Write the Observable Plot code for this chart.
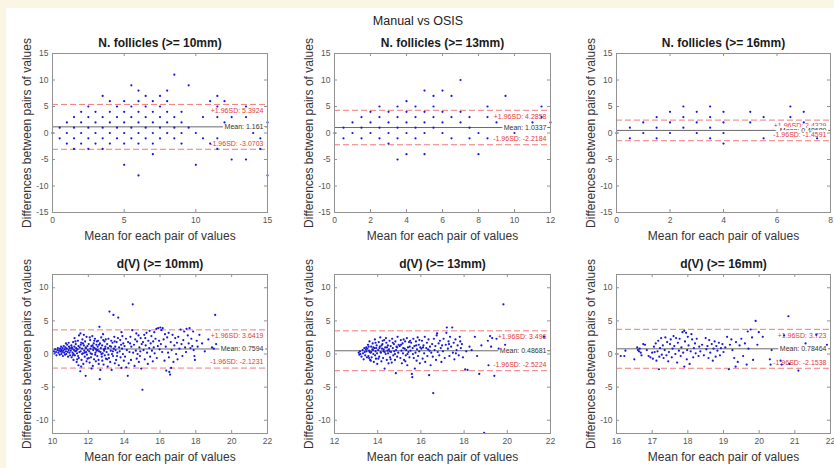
<!DOCTYPE html>
<html><head><meta charset="utf-8">
<script src="https://cdn.jsdelivr.net/npm/d3@7"></script>
<script src="https://cdn.jsdelivr.net/npm/@observablehq/plot@0.6"></script>
<style>
html,body{margin:0;padding:0;background:#fbf6e3;}
#page{position:relative;width:834px;height:468px;overflow:hidden;font-family:"Liberation Sans",Arial,sans-serif;}
#sheet{position:absolute;left:6px;top:8px;right:0;bottom:0;background:#fff;}
#title{position:absolute;left:0;width:836px;top:14px;text-align:center;font-size:12.5px;line-height:14px;color:#222;}
.panel{position:absolute;}
.panel svg{overflow:visible;background:transparent;}
</style></head><body>
<div id="page"><div id="sheet"></div><div id="title">Manual vs OSIS</div></div>
<script>
// ---------------- data ----------------
const figureTitle = "Manual vs OSIS";
const panelTitles = ["N. follicles (>= 10mm)","N. follicles (>= 13mm)","N. follicles (>= 16mm)","d(V) (>= 10mm)","d(V) (>= 13mm)","d(V) (>= 16mm)"];
const xLabel = "Mean for each pair of values";
const yLabel = "Differences between pairs of values";
const xDomains = [[0,15],[0,12],[0,8],[10,22],[12,22],[16,22]];
const yDomains = [[-15,15],[-15,15],[-15,15],[-12,12],[-12,12],[-12,12]];
const xTickValues = [[0,5,10,15],[0,2,4,6,8,10,12],[0,2,4,6,8],[10,12,14,16,18,20,22],[12,14,16,18,20,22],[16,17,18,19,20,21,22]];
const yTickValues = [[-15,-10,-5,0,5,10,15],[-15,-10,-5,0,5,10,15],[-15,-10,-5,0,5,10,15],[-10,-5,0,5,10],[-10,-5,0,5,10],[-10,-5,0,5,10]];
const meanValues = [1.161, 1.0337, 0.48689, 0.7594, 0.48681, 0.78464];
const upperLoA = [5.3924, 4.2858, 2.4329, 3.6419, 3.496, 3.723];
const lowerLoA = [-3.0703, -2.2184, -1.4591, -2.1231, -2.5224, -2.1538];

// N. follicles: [mean, [differences at that mean]]
const nf10 = [[0,[0]],[0.5,[1,-1]],[1,[2,0,-2]],[1.5,[3,1,-1,-3]],[2,[4,2,0,-2]],[2.5,[5,3,1,-1,-3]],[3,[4,2,0,-2]],[3.5,[7,3,1,-1,-3]],[4,[6,4,2,0,-2]],[4.5,[5,3,1,-1]],[5,[6,4,2,0,-2,-6]],[5.5,[9,5,3,1,-1]],[6,[8,6,4,2,0,-2,-8]],[6.5,[7,5,3,1,-1]],[7,[6,4,2,0,-2,-4]],[7.5,[7,5,3,1,-1]],[8,[8,6,4,2,0]],[8.5,[11,3,1,-1]],[9,[4,2,0,-2]],[9.5,[9,1]],[10,[0,-6]],[10.5,[3,-1]],[11,[6,-2]],[11.5,[7,5,3,-1,-3]],[12,[6,2]],[12.5,[3,-5]],[13.5,[5,3,-5]],[14,[0]],[14.5,[-1,-3]],[15,[2,-8]]];
const nf13 = [[0,[0]],[0.5,[1,-1]],[1,[2,0]],[1.5,[3,1,-1]],[2,[4,2,0]],[2.5,[5,3,1,-1]],[3,[4,2,0,-2]],[3.5,[5,3,1,-1,-5]],[4,[6,4,2,0,-4]],[4.5,[5,3,1,-1]],[5,[8,4,2,0,-4]],[5.5,[7,5,3,1]],[6,[8,4,2,0]],[6.5,[7,3,-1]],[7,[10,4,2]],[7.5,[3,1,-1]],[8,[0,-4]],[8.5,[5,3,-1]],[9,[2]],[9.5,[7]],[10,[0]],[11,[2]],[11.5,[5,3]],[12,[2]]];
const nf16 = [[0,[0]],[0.5,[1,-1]],[1,[2,0]],[1.5,[3,1,-1]],[2,[4,2,0]],[2.5,[5,3,1]],[3,[4,2,0]],[3.5,[5,3,1,-1]],[4,[4,2,0,-2]],[5,[4,2]],[5.5,[3,-1]],[6.5,[5,3]],[7,[4,2]],[7.5,[-1]]];

// d(V): [mean, difference]
const dv10 = [
[10.08,0.4],[10.12,0.1],[10.15,0.7],[10.2,0.3],[10.22,-0.2],[10.27,0.6],[10.3,0.9],[10.33,0.2],[10.37,0.5],[10.4,-0.1],[10.42,0.8],[10.45,0.4],[10.48,1.1],[10.5,0.0],[10.5,0.6],
[10.53,0.3],[10.56,0.9],[10.58,-0.3],[10.6,0.5],[10.63,1.2],[10.65,0.2],[10.68,0.7],[10.7,-0.1],[10.72,1.0],[10.75,0.4],[10.77,0.0],[10.8,0.8],[10.82,1.4],[10.85,0.3],[10.87,-0.4],[10.9,0.6],[10.92,1.1],[10.95,0.2],[10.97,0.9],[10.98,-0.2],[10.9,1.7],[10.75,1.6],
[11.02,0.5],[11.05,1.3],[11.07,-0.5],[11.1,0.8],[11.12,0.2],[11.15,1.8],[11.17,-0.9],[11.2,0.6],[11.22,1.1],[11.25,-0.2],[11.27,0.4],[11.3,1.5],[11.32,0.9],[11.35,-1.2],[11.37,0.1],[11.4,0.7],[11.42,2.0],[11.45,1.2],[11.47,-0.6],[11.5,0.3],[11.48,2.8],[11.45,-1.7],[11.38,-0.8],[11.28,1.9],[11.18,0.0],[11.08,1.0],[11.33,0.5],[11.43,-0.3],[11.23,2.4],[11.13,-0.2],
[11.52,1.0],[11.55,-2.6],[11.56,3.1],[11.57,0.4],[11.6,1.7],[11.62,-0.9],[11.65,0.8],[11.67,2.2],[11.7,0.1],[11.72,-1.5],[11.75,1.3],[11.77,0.5],[11.8,-0.4],[11.82,1.9],[11.85,-3.3],[11.87,0.9],[11.9,2.6],[11.92,-0.1],[11.95,1.2],[11.97,0.6],[11.6,-1.9],[11.7,1.6],[11.8,0.2],[11.9,-1.1],[11.65,0.0],[11.75,2.9],[11.85,1.0],[11.95,-0.7],[11.58,1.4],[11.88,0.3],
[12.02,1.5],[12.05,0.4],[12.07,-1.3],[12.1,2.1],[12.12,0.8],[12.15,-0.5],[12.17,1.2],[12.2,0.0],[12.22,2.7],[12.25,-1.8],[12.27,0.6],[12.3,1.6],[12.32,-0.8],[12.35,0.9],[12.37,2.3],[12.4,0.2],[12.42,-1.1],[12.45,1.4],[12.47,0.5],[12.5,-0.3],[12.08,2.5],[12.18,-2.2],[12.28,1.0],[12.38,-0.1],[12.48,1.9],[12.13,0.1],[12.23,1.3],[12.33,2.0],[12.43,0.7],[12.03,-0.6],
[12.52,1.1],[12.55,2.0],[12.57,-0.9],[12.6,0.4],[12.62,4.1],[12.64,-3.8],[12.65,1.6],[12.67,-2.4],[12.7,0.9],[12.72,2.5],[12.75,-0.4],[12.77,1.3],[12.8,0.1],[12.82,3.0],[12.85,-1.6],[12.87,0.7],[12.9,1.9],[12.92,-0.2],[12.95,1.1],[12.97,2.2],[12.58,-1.5],[12.68,0.3],[12.78,-1.0],[12.88,0.5],[12.98,-0.7],[12.6,1.4],[12.73,0.0],[12.83,2.1],[12.93,0.8],[12.53,0.6],
[13.02,0.3],[13.05,1.5],[13.08,-1.9],[13.1,0.9],[13.12,2.3],[13.15,-0.6],[13.18,6.4],[13.2,1.2],[13.22,-1.2],[13.25,0.5],[13.28,2.0],[13.3,-2.4],[13.32,0.0],[13.35,1.7],[13.38,-0.3],[13.4,5.9],[13.42,0.8],[13.45,2.6],[13.48,-1.4],[13.5,1.1],[13.12,-0.1],[13.27,1.1],[13.37,0.4],[13.47,1.9],[13.05,-0.8],
[13.52,0.6],[13.55,-0.9],[13.58,1.8],[13.62,0.2],[13.65,2.4],[13.67,5.5],[13.7,-1.7],[13.72,1.0],[13.75,0.4],[13.78,2.1],[13.8,-0.5],[13.83,1.4],[13.85,-2.1],[13.88,0.8],[13.9,2.7],[13.93,0.0],[13.95,1.6],[13.98,-1.0],[13.6,-0.3],[13.85,3.3],
[14.02,1.2],[14.05,-0.4],[14.1,2.3],[14.15,0.6],[14.2,-3.3],[14.22,1.8],[14.25,-1.4],[14.3,0.3],[14.35,2.6],[14.38,-0.9],[14.4,1.1],[14.45,3.6],[14.48,7.5],[14.5,0.2],[14.12,-2.0],[14.33,1.6],
[14.55,1.4],[14.58,-1.8],[14.62,2.2],[14.65,0.5],[14.7,-0.7],[14.72,1.9],[14.75,0.0],[14.8,2.8],[14.82,-1.2],[14.85,1.0],[14.9,0.4],[14.92,2.4],[14.95,-2.2],[14.98,1.5],[14.68,3.1],[14.88,-0.3],
[15.02,-5.4],[15.05,1.8],[15.08,0.6],[15.12,2.9],[15.15,-0.8],[15.2,1.3],[15.25,3.2],[15.28,0.2],[15.32,-1.5],[15.35,2.0],[15.4,0.9],[15.42,3.5],[15.45,-0.4],[15.48,1.6],[15.18,2.4],
[15.52,2.7],[15.55,0.5],[15.6,-1.1],[15.62,1.9],[15.68,3.3],[15.7,0.1],[15.75,2.3],[15.8,3.8],[15.82,-0.6],[15.88,1.2],[15.9,3.9],[15.95,2.0],[15.98,0.7],[15.65,1.0],
[16.02,4.0],[16.05,1.5],[16.08,3.6],[16.12,0.3],[16.15,3.9],[16.2,2.2],[16.25,-1.0],[16.28,3.0],[16.32,1.1],[16.35,-2.5],[16.4,2.5],[16.45,0.2],[16.48,3.2],[16.5,-0.5],
[16.52,-2.7],[16.56,-3.1],[16.6,1.8],[16.65,0.6],[16.7,2.9],[16.75,-1.2],[16.8,1.3],[16.85,2.4],[16.9,0.0],[16.95,1.7],[16.98,-0.8],[16.62,-2.1],
[17.02,2.6],[17.08,0.8],[17.15,3.7],[17.2,1.5],[17.25,-0.3],[17.3,2.1],[17.35,3.4],[17.4,1.0],[17.45,0.3],[17.48,3.8],
[17.55,2.8],[17.6,1.6],[17.65,3.9],[17.7,0.9],[17.75,2.3],[17.8,1.2],[17.85,3.4],[17.88,0.6],[17.92,-0.3],[17.95,-0.9],
[18.05,2.0],[18.1,1.1],[18.2,2.9],[18.35,1.6],[18.5,0.4],[18.7,2.2],[18.9,1.0],[19.08,5.9],[19.13,1.5],[19.0,0.8]
];
const dv13 = [
[13.12,0.2],[13.15,-0.1],[13.18,0.4],[13.2,0.0],[13.25,-0.4],[13.3,0.6],[13.32,0.1],[13.35,-0.8],[13.38,0.9],[13.4,0.3],[13.42,-0.2],[13.45,0.7],[13.47,1.0],[13.5,-0.5],[13.48,0.4],
[13.52,0.8],[13.55,1.4],[13.57,-0.3],[13.6,0.5],[13.62,1.9],[13.65,-0.9],[13.67,0.2],[13.7,1.1],[13.72,-0.5],[13.75,0.7],[13.77,1.6],[13.8,0.0],[13.82,-1.2],[13.85,0.9],[13.87,2.2],[13.9,0.4],[13.92,-0.7],[13.95,1.3],[13.97,0.1],[13.98,-1.5],[13.6,-0.6],[13.7,0.3],[13.8,1.0],[13.9,1.7],[13.58,1.1],[13.68,-1.0],[13.78,0.6],[13.88,-0.2],[13.93,0.9],[13.63,0.3],
[14.02,0.6],[14.05,1.8],[14.07,-0.4],[14.1,1.1],[14.12,2.5],[14.15,0.2],[14.17,-1.1],[14.2,0.8],[14.22,1.5],[14.25,-0.6],[14.27,0.4],[14.3,2.1],[14.32,-2.2],[14.35,1.0],[14.37,0.0],[14.4,1.7],[14.42,-0.9],[14.45,0.5],[14.47,1.3],[14.5,-1.4],[14.08,0.9],[14.18,1.3],[14.28,0.7],[14.38,2.4],[14.48,0.1],[14.03,-0.7],[14.13,0.3],[14.23,2.0],[14.33,0.3],[14.43,1.0],
[14.52,0.7],[14.55,2.0],[14.57,-0.5],[14.6,1.2],[14.62,0.3],[14.65,-1.3],[14.67,2.3],[14.7,0.9],[14.72,-0.2],[14.75,1.5],[14.77,0.4],[14.8,-0.9],[14.82,1.9],[14.84,-2.9],[14.85,0.6],[14.87,1.1],[14.9,-0.4],[14.92,2.6],[14.95,0.2],[14.97,1.4],[14.6,-0.8],[14.7,1.7],[14.8,0.0],[14.9,1.0],[14.55,0.4],
[15.02,1.2],[15.05,-0.6],[15.07,2.1],[15.1,0.5],[15.12,-1.4],[15.15,1.6],[15.17,0.1],[15.2,2.2],[15.22,-0.9],[15.25,0.8],[15.27,1.9],[15.3,-0.2],[15.32,0.6],[15.35,2.4],[15.37,-1.7],[15.4,1.0],[15.42,0.3],[15.45,1.8],[15.47,-0.5],[15.5,2.0],[15.08,1.4],[15.18,0.9],[15.28,-1.1],[15.38,0.0],[15.48,1.1],
[15.52,0.5],[15.55,1.7],[15.58,-3.0],[15.6,-3.5],[15.62,0.9],[15.65,2.3],[15.67,-0.6],[15.7,1.2],[15.72,-2.2],[15.75,0.2],[15.77,1.9],[15.8,-1.0],[15.82,0.7],[15.85,2.5],[15.87,-0.3],[15.9,1.4],[15.92,0.4],[15.95,-1.4],[15.97,1.0],[15.63,0.0],[15.78,1.3],[15.93,2.1],
[16.02,0.8],[16.05,2.0],[16.08,-0.7],[16.12,1.3],[16.15,0.1],[16.18,2.6],[16.2,-1.2],[16.25,0.9],[16.28,1.7],[16.3,-0.3],[16.35,2.2],[16.38,-3.2],[16.4,0.5],[16.42,1.1],[16.45,-1.7],[16.48,0.2],[16.1,1.0],[16.33,0.7],
[16.52,1.5],[16.55,-0.4],[16.57,-5.9],[16.6,2.3],[16.63,0.6],[16.67,1.2],[16.7,-0.9],[16.73,2.8],[16.75,3.1],[16.78,0.3],[16.82,1.6],[16.85,-0.2],[16.88,2.0],[16.92,0.9],[16.95,-1.2],[16.98,1.3],
[17.02,0.4],[17.05,2.3],[17.1,-0.6],[17.15,1.4],[17.18,3.2],[17.2,4.0],[17.25,0.8],[17.28,1.9],[17.32,-0.3],[17.35,2.6],[17.4,1.1],[17.45,4.0],[17.48,0.2],[17.3,1.5],
[17.52,1.7],[17.55,-0.8],[17.6,2.2],[17.65,0.6],[17.7,1.3],[17.75,-0.2],[17.8,2.6],[17.85,0.9],[17.9,1.5],[17.95,-0.5],[17.62,0.1],[17.82,1.9],
[18.05,-2.3],[18.16,-2.4],[18.1,0.4],[18.25,1.1],[18.35,0.6],[18.5,2.6],[18.6,-0.3],[18.7,-3.0],[18.93,-11.9],[18.8,1.3],
[19.1,2.0],[19.13,-1.7],[19.2,2.7],[19.25,1.1],[19.3,2.4],[19.4,-3.3],[19.5,2.3],[19.82,7.5],[19.6,0.8],[19.9,1.4],[21.7,2.6]
];
const dv16 = [
[16.0,0.0],[16.12,-0.3],[16.22,-0.3],[16.25,0.5],[16.5,-0.8],[16.58,1.0],[16.6,0.6],[16.63,0.4],[16.65,0.8],[16.68,0.2],[16.7,-0.2],[16.75,1.5],[16.8,1.4],[16.85,0.6],
[16.9,-0.3],[16.95,-0.5],[17.0,0.2],[17.02,-0.7],[17.05,1.1],[17.07,0.3],[17.1,1.6],[17.12,-1.0],[17.15,0.4],[17.17,2.0],[17.19,-2.3],[17.2,-0.4],[17.22,0.9],[17.25,2.4],[17.27,-0.1],[17.3,1.3],[17.32,-0.6],[17.35,0.6],[17.37,2.5],[17.4,-0.2],[17.42,1.8],[17.45,-1.1],[17.47,0.3],
[17.5,1.5],[17.52,2.2],[17.55,-0.5],[17.57,0.8],[17.6,2.7],[17.62,1.2],[17.65,0.0],[17.67,2.4],[17.7,-1.3],[17.72,1.7],[17.75,0.5],[17.77,2.3],[17.8,-0.3],[17.82,1.0],[17.85,3.3],[17.87,0.2],[17.9,-1.9],[17.9,3.5],[17.92,1.9],[17.95,3.2],[17.97,-0.8],[17.98,0.6],
[18.0,2.6],[18.02,1.3],[18.05,-1.5],[18.08,0.4],[18.1,3.0],[18.12,2.2],[18.15,-0.5],[18.17,0.9],[18.2,1.6],[18.22,0.1],[18.25,2.3],[18.3,-0.3],[18.32,1.1],[18.35,0.4],[18.4,1.4],[18.45,-0.2],[18.5,2.4],[18.52,0.7],[18.55,1.2],[18.58,-0.6],[18.6,2.1],[18.63,0.2],[18.67,1.5],[18.7,-1.0],[18.72,0.8],[18.75,1.9],[18.78,-0.4],[18.8,1.2],[18.83,0.5],[18.87,1.7],[18.9,-0.2],[18.93,0.9],[18.97,1.5],
[19.0,0.3],[19.05,1.0],[19.1,2.6],[19.15,-2.3],[19.18,1.4],[19.22,2.2],[19.25,0.6],[19.3,-0.6],[19.34,-1.9],[19.35,1.8],[19.4,-1.2],[19.45,1.3],[19.5,2.3],[19.55,-0.3],[19.6,1.6],[19.65,-1.6],[19.68,3.4],[19.7,0.8],[19.76,3.7],[19.8,2.5],[19.83,-0.9],[19.9,5.0],[19.95,1.4],[19.99,3.3],
[20.1,2.6],[20.3,-0.8],[20.32,-1.6],[20.35,0.6],[20.6,-1.0],[20.63,-1.6],[20.7,2.8],[20.82,5.7],[20.85,-1.5],[21.1,-2.5],[21.3,1.6],[21.6,2.9],[21.9,1.4]
];

// ---------------- drawing ----------------
const expand = cols => cols.flatMap(([m, ds]) => ds.map(d => [m, d]));
const panelData = [expand(nf10), expand(nf13), expand(nf16), dv10, dv13, dv16];

const colFrames = [[52,267],[334,550],[616,830]];
const rowFrames = [[53,212],[274,433]];
const mL = 48, mR = 4, mT = 30, mB = 34;
const frameColor = "#929292";
const dashColor = "#f27a7a";
const labelRed = "#e23a3a";
const dotBlue = "#1515dc";
const page = document.getElementById("page");
document.getElementById("title").textContent = figureTitle;

for (let i = 0; i < 6; i++) {
  const c = i % 3, r = Math.floor(i / 3);
  const fw = colFrames[c][1] - colFrames[c][0];
  const fh = rowFrames[r][1] - rowFrames[r][0];
  const chart = Plot.plot({
    width: mL + fw + mR, height: mT + fh + mB,
    marginLeft: mL, marginRight: mR, marginTop: mT, marginBottom: mB,
    style: {fontFamily: "'Liberation Sans', Arial, sans-serif", fontSize: "8.5px", color: "#555", background: "transparent", overflow: "visible"},
    x: {domain: xDomains[i], ticks: xTickValues[i], tickSize: 0, tickPadding: 4, label: null, tickFormat: d => String(d)},
    y: {domain: yDomains[i], ticks: yTickValues[i], tickSize: 0, tickPadding: 4, label: null, tickFormat: d => String(d)},
    marks: [
      Plot.ruleY([upperLoA[i], lowerLoA[i]], {y: d => d, stroke: dashColor, strokeWidth: 1, strokeDasharray: "6,3"}),
      Plot.ruleY([meanValues[i]], {y: d => d, stroke: "#6a6a6a", strokeWidth: 1}),
      Plot.text([upperLoA[i]], {y: d => d, frameAnchor: "right", textAnchor: "end", lineAnchor: "middle", dx: -4, dy: 6, text: d => `+1.96SD: ${d}`, fill: labelRed, stroke: "white", strokeWidth: 4, paintOrder: "stroke", fontSize: 7}),
      Plot.text([meanValues[i]], {y: d => d, frameAnchor: "right", textAnchor: "end", lineAnchor: "middle", dx: -4, dy: 0, text: d => `Mean: ${d}`, fill: "#333", stroke: "white", strokeWidth: 4, paintOrder: "stroke", fontSize: 7}),
      Plot.text([lowerLoA[i]], {y: d => d, frameAnchor: "right", textAnchor: "end", lineAnchor: "middle", dx: -4, dy: -6, text: d => `-1.96SD: ${d}`, fill: labelRed, stroke: "white", strokeWidth: 4, paintOrder: "stroke", fontSize: 7}),
      Plot.dot(panelData[i], {x: d => d[0], y: d => d[1], r: 1.1, fill: dotBlue}),
      Plot.tickX(xTickValues[i], {x: d => d, stroke: frameColor, insetTop: fh - 3}),
      Plot.tickX(xTickValues[i], {x: d => d, stroke: frameColor, insetBottom: fh - 3}),
      Plot.tickY(yTickValues[i], {y: d => d, stroke: frameColor, insetRight: fw - 3}),
      Plot.tickY(yTickValues[i], {y: d => d, stroke: frameColor, insetLeft: fw - 3}),
      Plot.frame({stroke: frameColor}),
      Plot.text([panelTitles[i]], {frameAnchor: "top", textAnchor: "middle", lineAnchor: "middle", dy: -10, text: d => d, fontWeight: "bold", fontSize: 12, fill: "#1a1a1a"}),
      Plot.text([xLabel], {frameAnchor: "bottom", textAnchor: "middle", lineAnchor: "middle", dy: 24, text: d => d, fontSize: 12, fill: "#333"}),
      Plot.text([yLabel], {frameAnchor: "left", textAnchor: "middle", lineAnchor: "middle", dx: -25, rotate: -90, text: d => d, fontSize: 12, fill: "#333"})
    ]
  });
  const holder = document.createElement("div");
  holder.className = "panel";
  holder.style.left = (colFrames[c][0] - mL) + "px";
  holder.style.top = (rowFrames[r][0] - mT) + "px";
  holder.appendChild(chart);
  page.appendChild(holder);
}
</script>
</body></html>
